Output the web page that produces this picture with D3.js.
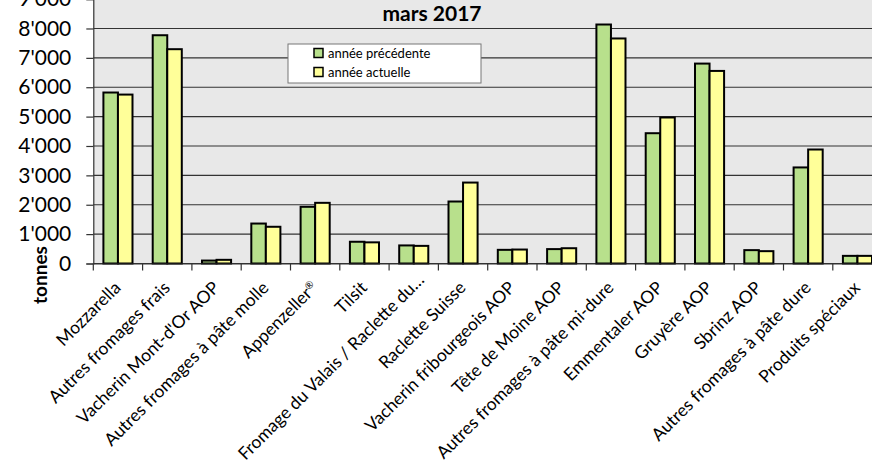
<!DOCTYPE html>
<html>
<head>
<meta charset="utf-8">
<script src="https://cdn.jsdelivr.net/npm/d3@7"></script>
<style>
html,body{margin:0;padding:0;background:#fff;}
svg{display:block;font-family:Lato, "Open Sans", sans-serif;}
</style>
</head>
<body>
<svg id="chart" width="872" height="469"></svg>
<script>
const categories = ["Mozzarella","Autres fromages frais","Vacherin Mont-d'Or AOP","Autres fromages à pâte molle","Appenzeller®","Tilsit","Fromage du Valais / Raclette du…","Raclette Suisse","Vacherin fribourgeois AOP","Tête de Moine AOP","Autres fromages à pâte mi-dure","Emmentaler AOP","Gruyère AOP","Sbrinz AOP","Autres fromages à pâte dure","Produits spéciaux"];
const previousYear = [5820,7770,100,1360,1930,740,615,2110,465,490,8135,4435,6805,455,3270,260];
const currentYear  = [5750,7295,125,1250,2065,720,600,2755,475,520,7660,4970,6555,420,3880,260];
const seriesNames = ["année précédente","année actuelle"];
const yTicks = [0,1000,2000,3000,4000,5000,6000,7000,8000,9000];
const title = "mars 2017";
const yLabel = "tonnes";

const colors = ["#b8e08c","#ffff99"];
const svg = d3.select("#chart");
const pLeft = 93.3, pRight = 882.1, pTop = -0.9, pBottom = 263.5;

const x = d3.scaleBand().domain(categories).range([pLeft,pRight]);
const y = d3.scaleLinear().domain([0,9000]).range([pBottom, pTop]);
const fmt = v => d3.format(",")(v).replace(/,/g,"'");

// plot background
svg.append("rect").attr("x",pLeft).attr("y",pTop).attr("width",pRight-pLeft).attr("height",pBottom-pTop).attr("fill","#e8e8e8");

// gridlines
svg.append("g").selectAll("line").data(yTicks).join("line")
  .attr("x1",pLeft).attr("x2",pRight)
  .attr("y1",d=>y(d)).attr("y2",d=>y(d))
  .attr("stroke","#333").attr("stroke-width",1.2);

// bars
const inner = x.bandwidth()*0.59;
const bw = inner/2;
const series = [previousYear, currentYear];
series.forEach((vals,si)=>{
  svg.append("g").selectAll("rect").data(categories).join("rect")
    .attr("x",(d,i)=>x(d)+(x.bandwidth()-inner)/2+si*bw)
    .attr("y",(d,i)=>y(vals[i]))
    .attr("width",bw)
    .attr("height",(d,i)=>y(0)-y(vals[i]))
    .attr("fill",colors[si]).attr("stroke","#000").attr("stroke-width",2);
});

// y axis
const yAxis = svg.append("g").attr("transform",`translate(${pLeft},0)`)
  .call(d3.axisLeft(y).tickValues(yTicks).tickFormat(fmt).tickSize(7).tickPadding(15));
yAxis.select(".domain").attr("stroke","#333").attr("stroke-width",1.2);
yAxis.selectAll(".tick line").attr("stroke","#333").attr("stroke-width",1.2);
yAxis.selectAll("text").attr("font-size",21).attr("fill","#000").attr("font-family","Lato");

// x axis
const xAxis = svg.append("g").attr("transform",`translate(0,${pBottom})`)
  .call(d3.axisBottom(x).tickSize(0).tickFormat(""));
xAxis.select(".domain").attr("stroke","#333").attr("stroke-width",1.2);
// boundary ticks
svg.append("g").selectAll("line").data(categories).join("line")
  .attr("x1",d=>x(d)).attr("x2",d=>x(d))
  .attr("y1",pBottom).attr("y2",pBottom+7)
  .attr("stroke","#333").attr("stroke-width",1.2);

// x labels
svg.append("g").selectAll("text").data(categories).join("text")
  .attr("transform",d=>`translate(${x(d)+x.bandwidth()/2-0.5},${pBottom+21}) rotate(-45)`)
  .attr("text-anchor","end").attr("dy","0.35em")
  .attr("dx",d=>d.endsWith("…")?11:0)
  .attr("font-size",17.5).attr("fill","#000")
  .each(function(d){
    const t = d3.select(this);
    const parts = d.split("®");
    t.append("tspan").text(parts[0]);
    if (parts.length > 1) {
      t.append("tspan").attr("font-size",10).attr("dy","-0.6em").text("®");
    }
  });

// y label
svg.append("text").attr("transform","translate(47,275) rotate(-90)")
  .attr("text-anchor","middle").attr("font-weight","bold").attr("font-size",19)
  .text(yLabel);

// title
svg.append("text").attr("x",432).attr("y",21).attr("text-anchor","middle")
  .attr("font-weight","bold").attr("font-size",21).text(title);

// legend
const lg = svg.append("g");
lg.append("rect").attr("x",288).attr("y",44).attr("width",193).attr("height",39)
  .attr("fill","#fff").attr("stroke","#777").attr("stroke-width",1);
seriesNames.forEach((n,i)=>{
  const cy = 53 + i*19;
  lg.append("rect").attr("x",314).attr("y",cy-4.5).attr("width",9).attr("height",9)
    .attr("fill",colors[i]).attr("stroke","#000").attr("stroke-width",1.5);
  lg.append("text").attr("x",328).attr("y",cy).attr("dy","0.35em")
    .attr("font-size",13).attr("fill","#000").text(n);
});
</script>
</body>
</html>
